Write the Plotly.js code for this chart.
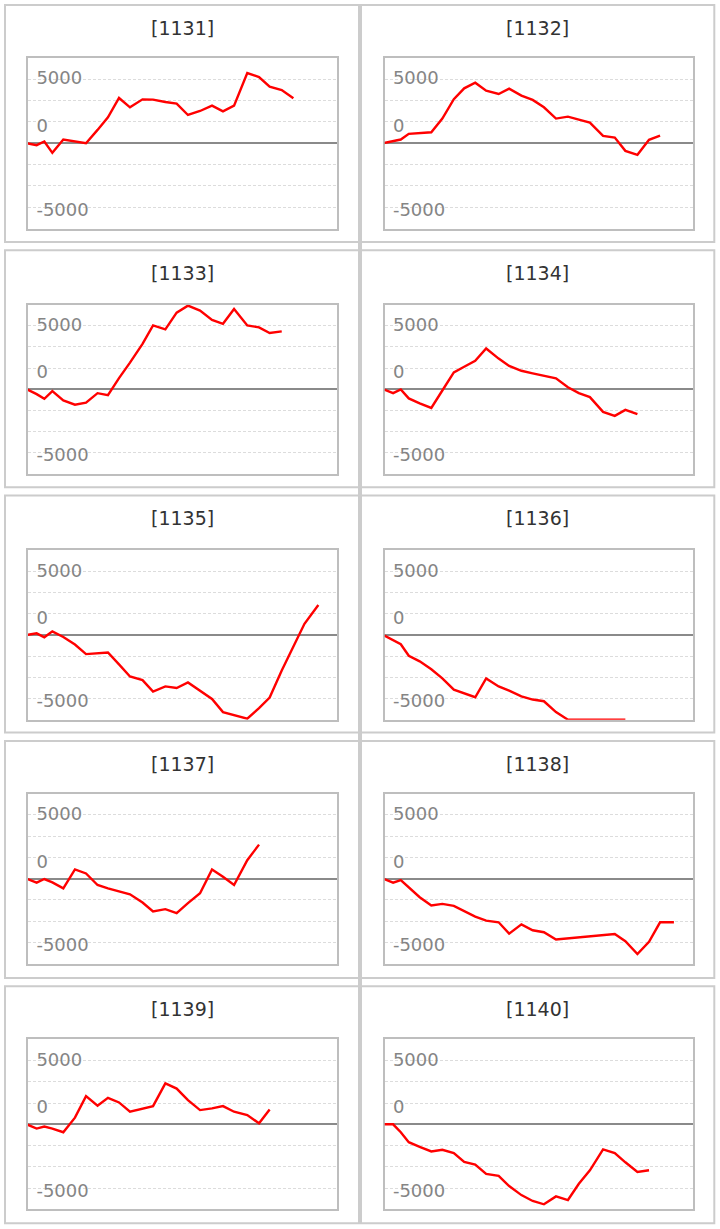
<!DOCTYPE html>
<html>
<head>
<meta charset="utf-8">
<script src="https://cdn.plot.ly/plotly-3.0.1.min.js"></script>
<style>
  html, body { margin: 0; padding: 0; background: #fff; }
  #chart { width: 720px; height: 1229px; }
</style>
</head>
<body>
<div id="chart"></div>
<script>
// ---- data ----
const panelNames = ['[1131]', '[1132]', '[1133]', '[1134]', '[1135]', '[1136]', '[1137]', '[1138]', '[1139]', '[1140]'];

// shared x positions (session number)
const xDays = [0, 0.88, 1.56, 2.27, 3.24, 4.27, 5.25, 6.27, 7.19, 8.17, 9.14, 10.25, 11.18, 12.27,
  13.27, 14.27, 15.34, 16.4, 17.37, 18.35, 19.52, 20.56, 21.5, 22.57, 23.6, 24.58, 25.81];

const s1131 = [0, -230, 195, -1130, 430, 210, 0, 1555, 3030, 5290, 4200, 5130, 5100, 4820, 4630, 3300, 3770, 4400, 3730, 4400, 8210, 7740, 6610, 6220, 5250];
const s1132 = [0, 195, 430, 1090, 1190, 1280, 2880, 5140, 6420, 7080, 6150, 5760, 6380, 5560, 5060, 4200, 2880, 3110, 2760, 2410, 860, 660, -895, -1360, 390, 895];
const s1133 = [0, -580, -1130, -235, -1320, -1830, -1600, -470, -700, 1320, 3150, 5370, 7550, 7080, 9060, 9880, 9300, 8210, 7740, 9490, 7550, 7310, 6650, 6850];
const s1134 = [0, -470, -40, -1090, -1670, -2220, -155, 1980, 2650, 3350, 4820, 3620, 2760, 2180, 1870, 1600, 1280, 235, -470, -935, -2680, -3150, -2450, -2960];
const s1135 = [0, 195, -270, 430, -235, -1130, -2255, -2160, -2060, -3460, -4900, -5330, -6690, -6070, -6260, -5600, -6530, -7550, -9100, -9490, -9880, -8640, -7390, -4200, -1400, 1320, 3540];
const s1136 = [0, -600, -1090, -2450, -3110, -4050, -5130, -6460, -6920, -7350, -5130, -6070, -6570, -7240, -7620, -7820, -9100, -10000, -10000, -10000, -10000, -10000, -10000];
const s1137 = [0, -470, -40, -430, -1130, 1090, 620, -740, -1130, -1440, -1830, -2800, -3850, -3580, -4050, -2880, -1710, 1090, 235, -740, 2180, 4010];
const s1138 = [0, -470, -155, -1000, -2180, -3150, -2960, -3190, -3850, -4470, -4940, -5130, -6460, -5370, -6070, -6300, -7160, -7030, -6900, -6780, -6630, -6500, -7350, -8870, -7430, -5130, -5130];
const s1139 = [0, -505, -270, -505, -935, 780, 3310, 2180, 3110, 2570, 1480, 1870, 2140, 4820, 4200, 2840, 1670, 1870, 2140, 1480, 1090, 115, 1750];
const s1140 = [0, 0, -935, -2100, -2650, -3190, -3000, -3390, -4430, -4750, -5840, -6070, -7270, -8330, -9020, -9410, -8480, -8910, -7000, -5410, -2960, -3390, -4470, -5600, -5410];

const seriesList = [s1131, s1132, s1133, s1134, s1135, s1136, s1137, s1138, s1139, s1140];

// y tick labels as printed in the reference (and where they sit)
const yTickText = ['5000', '0', '-5000'];
const yTickPos = [7620, 2030, -7800];

// ---- layout geometry (pixels) ----
const W = 720, H = 1229;
const colPlot = [[28, 337], [384.5, 692.5]];
const rowPlot = [[57.7, 228.7], [304.7, 473.7], [550.3, 719.7], [793.7, 963.7], [1039.3, 1209.3]];
const colPanel = [[5, 359], [361, 714.3]];
const rowPanelTop = [5, 250.3, 495.6, 740.9, 986.2];
const panelH = 237;

const px = v => v / W;
const py = v => 1 - v / H;

const data = [];
const layout = {
  width: W, height: H,
  margin: {l: 0, r: 0, t: 0, b: 0},
  paper_bgcolor: '#ffffff',
  plot_bgcolor: '#ffffff',
  showlegend: false,
  shapes: [],
  annotations: []
};

seriesList.forEach((ys, i) => {
  const row = Math.floor(i / 2), col = i % 2;
  const n = i + 1;
  const xa = n === 1 ? 'xaxis' : 'xaxis' + n;
  const ya = n === 1 ? 'yaxis' : 'yaxis' + n;
  const xr = n === 1 ? 'x' : 'x' + n;
  const yr = n === 1 ? 'y' : 'y' + n;

  data.push({
    type: 'scatter', mode: 'lines',
    x: xDays.slice(0, ys.length), y: ys,
    xaxis: xr, yaxis: yr,
    line: {color: '#ff0000', width: 2.4},
    hoverinfo: 'skip'
  });

  layout[xa] = {
    domain: [px(colPlot[col][0]), px(colPlot[col][1])],
    anchor: yr,
    range: [0.115, 27.46],
    showgrid: false, zeroline: false, showticklabels: false, ticks: '',
    showline: true, mirror: true, linecolor: 'rgba(150,150,150,0.62)', linewidth: 2,
    fixedrange: true
  };
  layout[ya] = {
    domain: [py(rowPlot[row][1]), py(rowPlot[row][0])],
    anchor: xr,
    range: [-10000, 10000],
    tickmode: 'array', tickvals: yTickPos, ticktext: yTickText,
    ticks: '', ticklabelposition: 'inside', ticklabelstandoff: 9,
    tickfont: {family: 'DejaVu Sans, Verdana, sans-serif', size: 18, color: '#858585'},
    showgrid: false,
    minor: {tickmode: 'linear', tick0: 0, dtick: 2500, showgrid: true, gridcolor: '#dcdcdc', griddash: '3px,2px', gridwidth: 1, ticks: ''},
    zeroline: true, zerolinecolor: '#8a8a8a', zerolinewidth: 2,
    showline: true, mirror: true, linecolor: 'rgba(150,150,150,0.62)', linewidth: 2,
    fixedrange: true
  };

  // panel frame
  const top = rowPanelTop[row];
  layout.shapes.push({
    type: 'rect', xref: 'paper', yref: 'paper',
    x0: px(colPanel[col][0]), x1: px(colPanel[col][1]),
    y0: py(top + panelH), y1: py(top),
    line: {color: '#cccccc', width: 2}, fillcolor: 'rgba(0,0,0,0)'
  });

  // panel title
  layout.annotations.push({
    xref: 'paper', yref: 'paper',
    x: px((colPanel[col][0] + colPanel[col][1]) / 2), y: py(top + 22.8),
    xanchor: 'center', yanchor: 'middle',
    text: panelNames[i], showarrow: false,
    font: {family: 'DejaVu Sans, Verdana, sans-serif', size: 19, color: '#333333'}
  });
});

// central vertical separator
layout.shapes.push({
  type: 'line', xref: 'paper', yref: 'paper',
  x0: px(360), x1: px(360), y0: py(rowPanelTop[0]), y1: py(rowPanelTop[4] + panelH),
  line: {color: '#cccccc', width: 4}
});

Plotly.newPlot('chart', data, layout, {displayModeBar: false, staticPlot: true});
</script>
</body>
</html>
